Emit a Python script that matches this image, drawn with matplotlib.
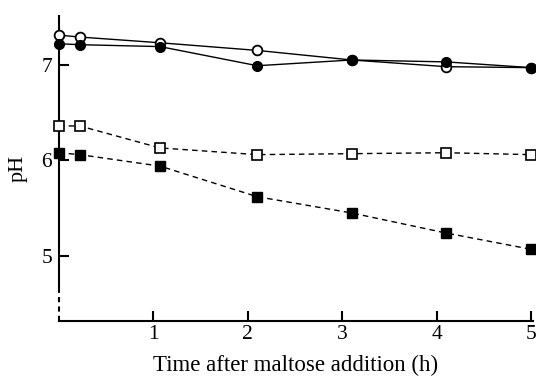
import matplotlib
matplotlib.use("Agg")
import matplotlib.pyplot as plt

time_h = [0, 0.22, 1.07, 2.1, 3.1, 4.1, 5.0]
ph_open_circle = [7.31, 7.29, 7.23, 7.15, 7.05, 6.98, 6.97]
ph_filled_circle = [7.22, 7.21, 7.19, 6.99, 7.05, 7.03, 6.97]
ph_open_square = [6.36, 6.36, 6.13, 6.06, 6.07, 6.08, 6.06]
ph_filled_square = [6.08, 6.06, 5.94, 5.62, 5.45, 5.24, 5.07]
x_ticks = [1, 2, 3, 4, 5]
y_ticks = [5, 6, 7]

plt.rcParams['font.family'] = ['Liberation Serif', 'DejaVu Serif']

fig = plt.figure(figsize=(5.36, 3.76), dpi=100)
ax = fig.add_axes([59/536, 1 - 321/376, 474/536, 305/376])
ax.set_xlim(0, 5.02)
ax.set_ylim(4.32, 7.51)

kw = dict(color='black', lw=1.0, clip_on=False, zorder=3)
ax.plot(time_h, ph_open_circle, '-o', mfc='white', mec='black', ms=7, mew=1.3, **kw)
ax.plot(time_h, ph_filled_circle, '-o', mfc='black', mec='black', ms=7, **kw)
ax.plot(time_h, ph_open_square, '--s', mfc='white', mec='black', ms=6.5, mew=1.2, dashes=(4, 3), **kw)
ax.plot(time_h, ph_filled_square, '--s', mfc='black', mec='black', ms=6.5, dashes=(4, 3), **kw)

for s in ['top', 'right']:
    ax.spines[s].set_visible(False)
ax.spines['left'].set_bounds(4.64, 7.51)
ax.spines['left'].set_linewidth(1.5)
ax.spines['bottom'].set_linewidth(1.5)
ax.plot([0, 0], [4.32, 4.64], color='black', lw=1.5, ls=(0, (2.5, 2)), clip_on=False)

ax.set_xticks(x_ticks)
ax.set_yticks(y_ticks)
ax.tick_params(direction='in', length=7, width=1.5, labelsize=15.5)
ax.tick_params(axis='x', pad=3)
ax.tick_params(axis='y', pad=5)
ax.set_xlabel('Time after maltose addition (h)', fontsize=16.5, labelpad=8)
ax.set_ylabel('pH', fontsize=16, labelpad=10)

fig.savefig('out.png', dpi=100)
